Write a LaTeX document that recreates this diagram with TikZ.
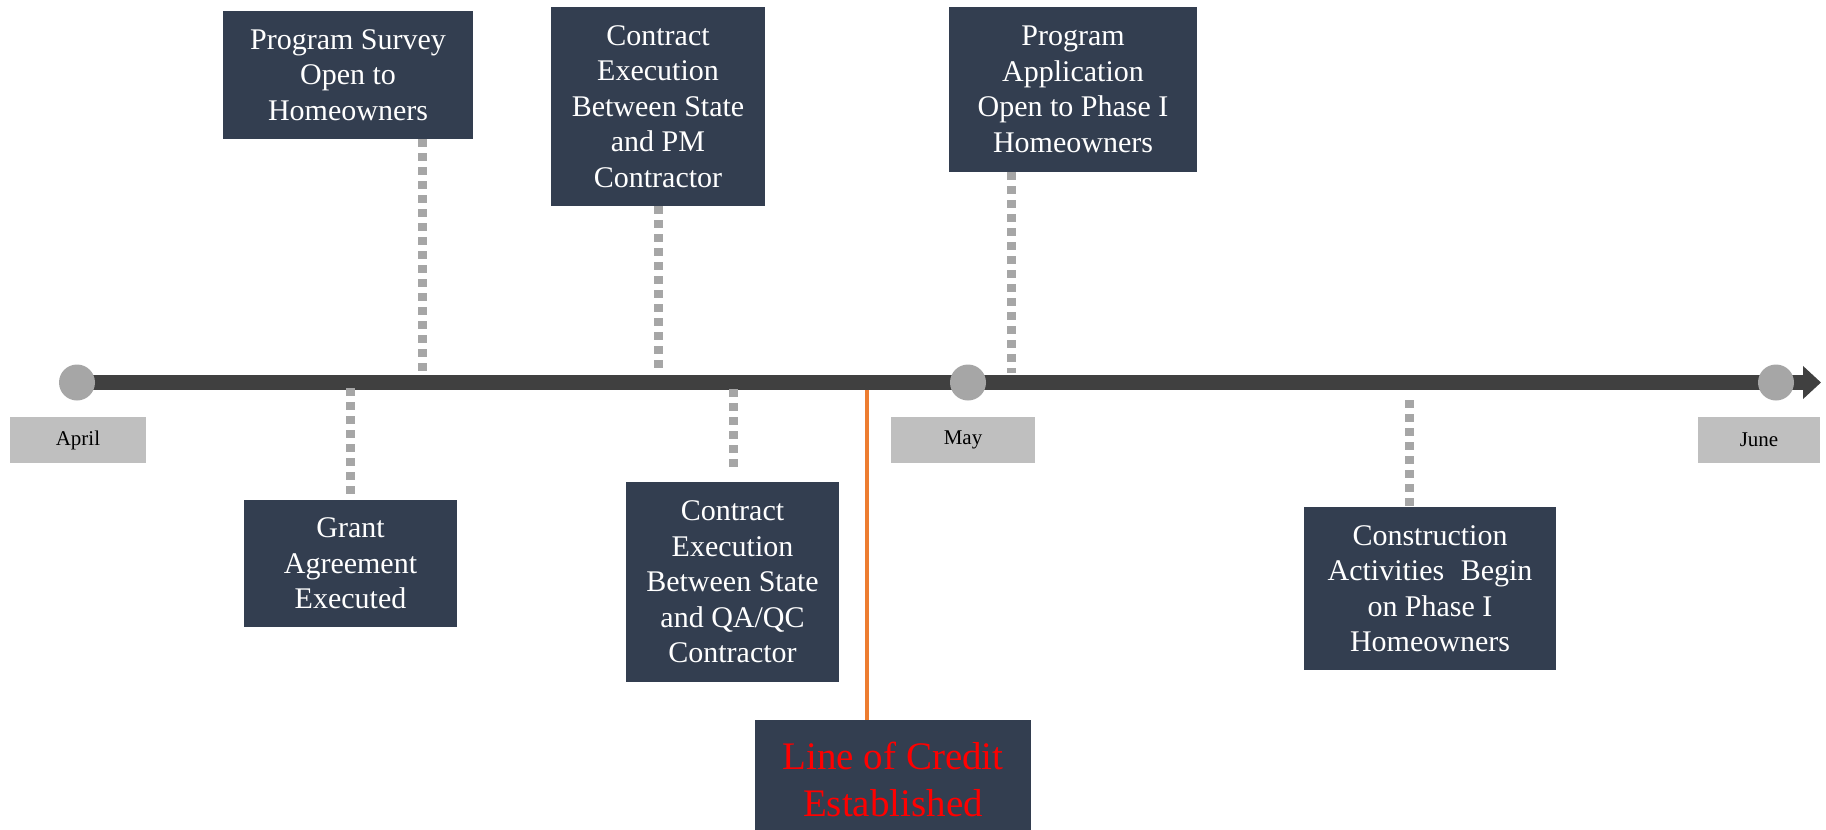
\documentclass[tikz,border=0pt]{standalone}
\usepackage{fontspec}
\setmainfont{Liberation Serif}
\usetikzlibrary{arrows.meta}
\definecolor{navy}{RGB}{51,62,80}
\definecolor{monthgrey}{RGB}{191,191,191}
\definecolor{axisgrey}{RGB}{64,64,64}
\definecolor{dotgrey}{RGB}{166,166,166}
\definecolor{orangeline}{RGB}{237,125,49}
\definecolor{creditred}{RGB}{255,0,0}
\begin{document}
\begin{tikzpicture}[x=0.5pt,y=-0.5pt,
  event/.style={fill=navy, text=white, align=center, inner sep=0pt,
    font=\fontsize{15}{17.75}\selectfont},
  month/.style={fill=monthgrey, text=black, minimum height=23pt, inner sep=0pt,
    font=\fontsize{10.5}{12}\selectfont},
  milestone/.style={circle, fill=dotgrey, minimum size=18pt, inner sep=0pt},
  dotline/.style={draw=dotgrey, line width=4.5pt, dash pattern=on 4pt off 3pt},
  axisline/.style={draw=axisgrey, line width=7.5pt, -{Triangle[length=9pt,width=16pt]}},
  creditline/.style={draw=orangeline, line width=2pt},
]
\useasboundingbox (0,0) rectangle (1826,830);

% timeline
\coordinate (tstart) at (77,382.5);
\coordinate (tend) at (1821,382.5);
\draw[axisline, axisgrey] (tstart) -- (tend);

% milestones
\node[milestone] (capr) at (77,382.5) {};
\node[milestone] (cmay) at (968,382.5) {};
\node[milestone] (cjun) at (1776,382.5) {};

% months
\node[month, minimum width=68pt] (apr) at (78,440) {April};
\node[month, minimum width=72pt] (may) at (963,440) {May};
\node[month, minimum width=61pt] (jun) at (1759,440) {June};

% events above
\node[event, minimum width=125pt, minimum height=64pt] (ps) at (348,75)
  {Program Survey\\Open to\\Homeowners};
\node[event, minimum width=107pt, minimum height=99.5pt] (pm) at (658,106.5)
  {Contract\\Execution\\Between State\\and PM\\Contractor};
\node[event, minimum width=124pt, minimum height=82.5pt] (pa) at (1073,89.5)
  {Program\\Application\\Open to Phase I\\Homeowners};

% events below
\node[event, minimum width=106.5pt, minimum height=63.5pt] (ga) at (350.5,563.5)
  {Grant\\Agreement\\Executed};
\node[event, minimum width=106.5pt, minimum height=100pt] (qa) at (732.5,582)
  {Contract\\Execution\\Between State\\and QA/QC\\Contractor};
\node[event, minimum width=126pt, minimum height=81.5pt] (ca) at (1430,588.5)
  {Construction\\Activities\hspace{0.3em} Begin\\on Phase I\\Homeowners};
\node[event, text=creditred, minimum width=138pt, minimum height=59pt,
  font=\fontsize{19.5}{23.5}\selectfont] (loc) at (893,779)
  {Line of Credit\\Established};

% connector anchors on the timeline
\coordinate (tps) at (422,375);
\coordinate (tpm) at (658,369);
\coordinate (tpa) at (1011,373);
\coordinate (tga) at (350,388);
\coordinate (tqa) at (733,389);
\coordinate (tca) at (1409,400);
\coordinate (tloc) at (867,390);

\draw[dotline] (tps |- ps.south) -- (tps);
\draw[dotline] (tpm |- pm.south) -- (tpm);
\draw[dotline] (tpa |- pa.south) -- (tpa);
\draw[dotline] (tga) -- (tga |- ga.north);
\draw[dotline] (tqa) -- ([yshift=6pt]tqa |- qa.north);
\draw[dotline] (tca) -- (tca |- ca.north);
\draw[creditline] (tloc) -- (tloc |- loc.north);
\end{tikzpicture}
\end{document}
